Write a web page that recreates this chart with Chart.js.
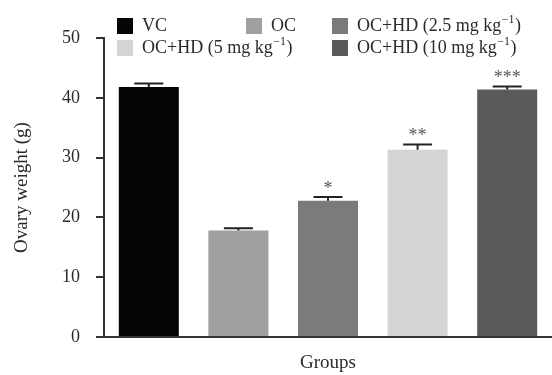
<!DOCTYPE html>
<html>
<head>
<meta charset="utf-8">
<script src="https://cdn.jsdelivr.net/npm/chart.js@4/dist/chart.umd.min.js"></script>
<style>
  html, body { margin: 0; padding: 0; background: #fff; }
  #wrap { width: 552px; height: 375px; }
</style>
</head>
<body>
<div id="wrap"><canvas id="barChart"></canvas></div>
<script>
const groups = ['VC', 'OC', 'OC+HD (2.5 mg kg⁻¹)', 'OC+HD (5 mg kg⁻¹)', 'OC+HD (10 mg kg⁻¹)'];
const ovaryWeight = [41.8, 17.8, 22.8, 31.3, 41.4];
const sem = [0.6, 0.4, 0.6, 0.9, 0.5];
const significance = ['', '', '*', '**', '***'];
const barColors = ['#050505', '#a0a0a3', '#7b7b79', '#d4d4d6', '#5a5a5a'];
const yTicks = [0, 10, 20, 30, 40, 50];

const serif = '"Liberation Serif", "Times New Roman", serif';
const textColor = '#2a2a2a';
const axisColor = '#333';

// legend grid: [column box x, row box y]
const legendSlots = [[117, 18], [246, 18], [332, 18], [117, 40], [332, 40]];

function drawLabel(ctx, label, x, y) {
    // split off the "⁻¹" so it can be drawn as a real superscript
    const parts = label.split('⁻¹');
    ctx.font = '18px ' + serif;
    ctx.fillText(parts[0], x, y);
    if (parts.length < 2) return;
    x += ctx.measureText(parts[0]).width;
    ctx.font = '12px ' + serif;
    ctx.fillText('\u2212' + '1', x + 0.5, y - 6);
    x += ctx.measureText('\u22121').width + 1;
    ctx.font = '18px ' + serif;
    ctx.fillText(parts[1], x, y);
}

const extras = {
    id: 'extras',
    afterDatasetsDraw(chart) {
        const ctx = chart.ctx;
        const meta = chart.getDatasetMeta(0);
        const y = chart.scales.y;
        ctx.save();
        // error bars (upper half only) + significance marks
        meta.data.forEach((bar, i) => {
            const top = y.getPixelForValue(ovaryWeight[i] + sem[i]);
            ctx.strokeStyle = '#222';
            ctx.lineWidth = 2;
            ctx.beginPath();
            ctx.moveTo(bar.x, bar.y);
            ctx.lineTo(bar.x, top);
            ctx.moveTo(bar.x - 14.5, top);
            ctx.lineTo(bar.x + 14.5, top);
            ctx.stroke();
            if (significance[i]) {
                ctx.fillStyle = '#555';
                ctx.font = '18px ' + serif;
                ctx.textAlign = 'center';
                ctx.textBaseline = 'middle';
                ctx.fillText(significance[i], bar.x, top - 8);
            }
        });
        // legend
        ctx.textAlign = 'left';
        ctx.textBaseline = 'middle';
        groups.forEach((g, i) => {
            const [bx, by] = legendSlots[i];
            ctx.fillStyle = barColors[i];
            ctx.fillRect(bx, by, 16, 16);
            ctx.fillStyle = textColor;
            drawLabel(ctx, g, bx + 25, by + 8);
        });
        ctx.restore();
    }
};

new Chart(document.getElementById('barChart'), {
    type: 'bar',
    data: {
        labels: groups,
        datasets: [{
            data: ovaryWeight,
            backgroundColor: barColors,
            borderWidth: 0,
            barPercentage: 0.67,
            categoryPercentage: 1
        }]
    },
    options: {
        responsive: true,
        maintainAspectRatio: false,
        animation: false,
        layout: { padding: { top: 38, right: 0, bottom: 0, left: 0 } },
        plugins: { legend: { display: false }, tooltip: { enabled: false } },
        scales: {
            x: {
                ticks: { display: false },
                grid: { display: false },
                border: { display: true, color: axisColor, width: 2 },
                title: {
                    display: true,
                    text: 'Groups',
                    color: textColor,
                    font: { family: serif, size: 19 },
                    padding: { top: 0, bottom: 1 }
                },
                afterFit(scale) { scale.height = 38; }
            },
            y: {
                min: 0,
                max: 50,
                afterBuildTicks(scale) { scale.ticks = yTicks.map(v => ({ value: v })); },
                ticks: {
                    color: textColor,
                    font: { family: serif, size: 18 },
                    padding: 16
                },
                grid: {
                    drawOnChartArea: false,
                    drawTicks: true,
                    tickLength: 8,
                    color: axisColor,
                    lineWidth: 2
                },
                border: { display: true, color: axisColor, width: 2 },
                title: {
                    display: true,
                    text: 'Ovary weight (g)',
                    color: textColor,
                    font: { family: serif, size: 19 },
                    padding: { top: 11, bottom: 0 }
                },
                afterFit(scale) { scale.width = 104; }
            }
        }
    },
    plugins: [extras]
});
</script>
</body>
</html>
